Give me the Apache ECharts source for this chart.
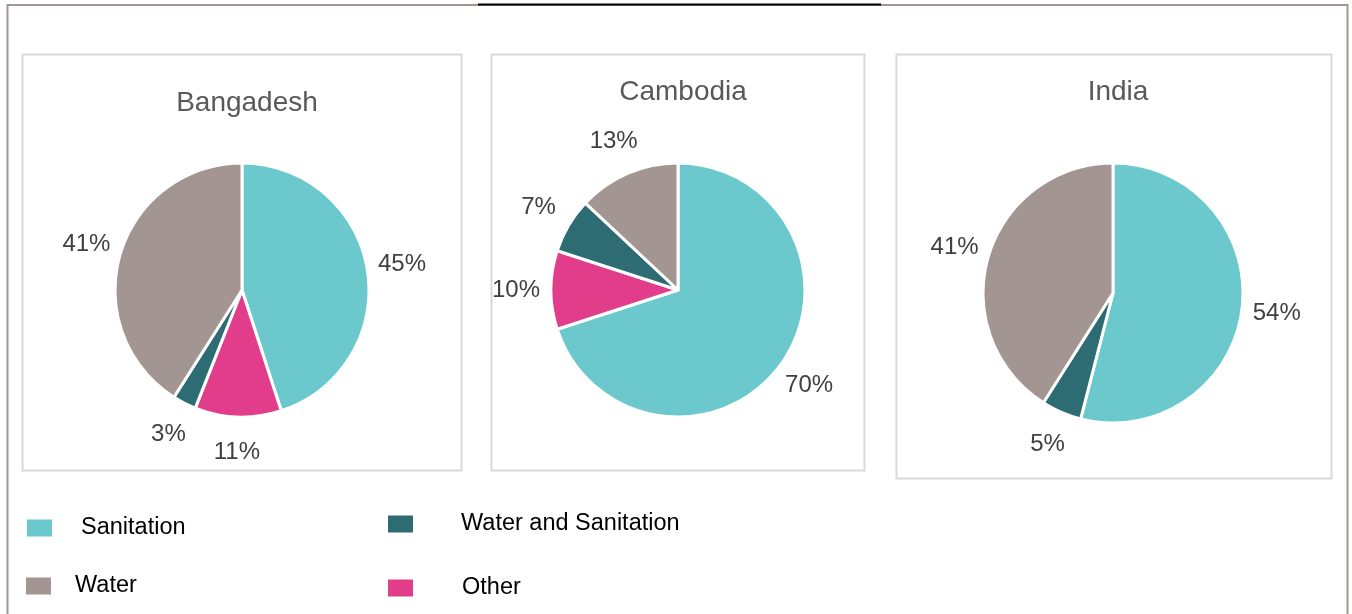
<!DOCTYPE html>
<html>
<head>
<meta charset="utf-8">
<script src="https://cdn.jsdelivr.net/npm/echarts@6/dist/echarts.min.js"></script>
<style>
  html, body { margin: 0; padding: 0; background: #fff; }
  #chart { width: 1352px; height: 614px; }
</style>
</head>
<body>
<div id="chart"></div>
<script>
// Share of spending by category, in percent, for each country
const categories = ['Sanitation', 'Other', 'Water and Sanitation', 'Water'];
const countries = ['Bangadesh', 'Cambodia', 'India'];
const bangladeshValues = [45, 11, 3, 41];
const cambodiaValues = [70, 10, 7, 13];
const indiaValues = [54, 0, 5, 41];

const colors = {
  'Sanitation': '#6bc9ce',
  'Other': '#e23d8b',
  'Water and Sanitation': '#2e6c73',
  'Water': '#a39591'
};

const FONT = '"Liberation Sans", Arial, sans-serif';

// Layout of each panel: frame box, pie centre/radius and title position
const panels = [
  { values: bangladeshValues, box: [22, 54, 439, 416], center: [242, 290], r: 127, titleTop: 84 },
  { values: cambodiaValues,   box: [491, 54, 373, 416], center: [678, 290], r: 127, titleTop: 73 },
  { values: indiaValues,      box: [896, 54, 435, 424], center: [1113, 293], r: 130, titleTop: 73 }
];

function sliceData(values) {
  return categories
    .map((name, i) => ({ name, value: values[i], itemStyle: { color: colors[name] } }))
    .filter(d => d.value > 0);
}

const series = [];
const titles = [];
const graphics = [];

// Outer frame and the underline of the heading above it
graphics.push({
  type: 'rect', shape: { x: 7.5, y: 5, width: 1340, height: 640 },
  style: { fill: 'none', stroke: '#a39591', lineWidth: 2 }, silent: true
});
graphics.push({
  type: 'line', shape: { x1: 478, y1: 4.5, x2: 881, y2: 4.5 },
  style: { stroke: '#000', lineWidth: 2 }, silent: true
});

panels.forEach((p, k) => {
  graphics.push({
    type: 'rect',
    shape: { x: p.box[0] + 0.5, y: p.box[1] + 0.5, width: p.box[2], height: p.box[3] },
    style: { fill: 'none', stroke: '#d9d9d9', lineWidth: 2 }, silent: true
  });
  titles.push({
    text: countries[k],
    left: p.center[0],
    top: p.titleTop,
    textAlign: 'center',
    textStyle: { fontFamily: FONT, fontSize: 28, fontWeight: 'normal', color: '#595959' }
  });
  const data = sliceData(p.values);
  // The pie itself
  series.push({
    type: 'pie',
    center: p.center,
    radius: p.r,
    startAngle: 90,
    clockwise: true,
    data: data,
    label: { show: false },
    labelLine: { show: false },
    itemStyle: { borderColor: '#ffffff', borderWidth: 3 },
    emphasis: { disabled: true },
    silent: true
  });
  // A transparent ring around it that carries the percentage labels
  series.push({
    type: 'pie',
    center: p.center,
    radius: [p.r + 12, p.r + 52],
    startAngle: 90,
    clockwise: true,
    data: data.map(d => ({ name: d.name, value: d.value })),
    itemStyle: { color: 'rgba(0,0,0,0)' },
    label: {
      show: true,
      position: 'inside',
      formatter: '{c}%',
      fontFamily: FONT,
      fontSize: 24,
      color: '#404040'
    },
    labelLine: { show: false },
    emphasis: { disabled: true },
    silent: true,
    legendHoverLink: false
  });
});

// Legend entries, one component per item
const legendSpots = {
  'Sanitation': { left: 25, top: 516, pad: 23 },
  'Water': { left: 24, top: 574, pad: 18 },
  'Water and Sanitation': { left: 386, top: 512, pad: 42 },
  'Other': { left: 386, top: 576, pad: 43 }
};
const legends = ['Sanitation', 'Water', 'Water and Sanitation', 'Other'].map(name => ({
  data: [{ name, icon: 'rect' }],
  left: legendSpots[name].left,
  top: legendSpots[name].top,
  itemWidth: 27,
  itemHeight: 19,
  padding: 0,
  selectedMode: false,
  textStyle: {
    fontFamily: FONT,
    fontSize: 23.5,
    color: '#000',
    padding: [0, 0, 0, legendSpots[name].pad]
  }
}));

const chart = echarts.init(document.getElementById('chart'), null, { renderer: 'canvas' });
chart.setOption({
  animation: false,
  backgroundColor: '#ffffff',
  title: titles,
  legend: legends,
  series: series,
  graphic: graphics
});
</script>
</body>
</html>
